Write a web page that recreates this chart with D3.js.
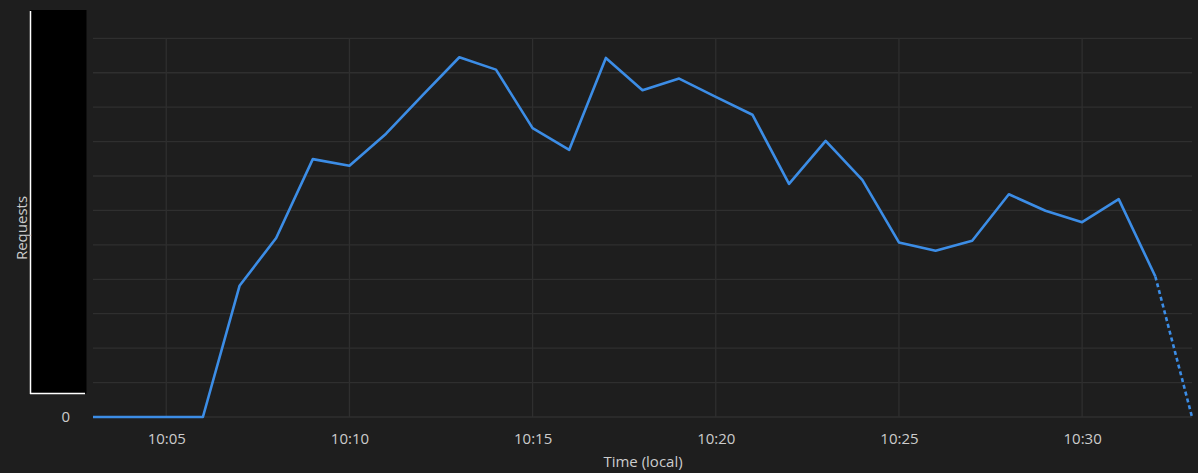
<!DOCTYPE html>
<html><head><meta charset="utf-8">
<script src="https://cdn.jsdelivr.net/npm/d3@7"></script>
<style>
html,body{margin:0;padding:0;background:#1e1e1e;}
svg{display:block;}
text{font-family:"Open Sans","Noto Sans",sans-serif;fill:#cccccc;}
</style></head>
<body>
<svg id="chart" width="1198" height="473"></svg>
<script>
// Minutes (local time, 10:03 .. 10:33)
const times = ["10:03","10:04","10:05","10:06","10:07","10:08","10:09","10:10","10:11","10:12","10:13","10:14","10:15","10:16","10:17","10:18","10:19","10:20","10:21","10:22","10:23","10:24","10:25","10:26","10:27","10:28","10:29","10:30","10:31","10:32","10:33"];
// Requests (in gridline units; axis labels are masked in the original)
const requests = [0,0,0,0,3.81,5.2,7.49,7.3,8.23,9.35,10.45,10.09,8.39,7.76,10.43,9.49,9.83,9.3,8.78,6.77,8.02,6.89,5.07,4.83,5.12,6.47,5.99,5.66,6.33,4.08,0];
// Last point is incomplete (drawn dotted)
const partialFrom = "10:32";
const xTickLabels = ["10:05","10:10","10:15","10:20","10:25","10:30"];
const yTicks = [0,1,2,3,4,5,6,7,8,9,10,11];
const yTickLabels = ["0"];

(function(){
const parse = d3.timeParse("%H:%M");
const data = times.map((t,i)=>({t:parse(t), v:requests[i]}));

const svg = d3.select("#chart");
const W = 1198, H = 473;
const mLeft = 93, mRight = 1192, mTop = 38.3, mBottom = 417;
const fs = 15;

const x = d3.scaleTime().domain([parse(times[0]), parse(times[times.length-1])]).range([mLeft,mRight]);
const y = d3.scaleLinear().domain([0,11]).range([mBottom,mTop]);

svg.append("rect").attr("width",W).attr("height",H).attr("fill","#1e1e1e");

const grid = svg.append("g").attr("stroke","#2f2f2f").attr("stroke-width",1.3);
grid.selectAll("line.h").data(yTicks).join("line").attr("class","h")
  .attr("x1",mLeft).attr("x2",mRight)
  .attr("y1",d=>y(d)).attr("y2",d=>y(d));
grid.selectAll("line.v").data(xTickLabels.map(parse)).join("line").attr("class","v")
  .attr("x1",d=>x(d)).attr("x2",d=>x(d))
  .attr("y1",mTop).attr("y2",mBottom);

// x axis labels
const xAxis = d3.axisBottom(x).tickValues(xTickLabels.map(parse)).tickFormat(d3.timeFormat("%H:%M")).tickSize(0).tickPadding(0);
const gx = svg.append("g").attr("transform",`translate(0,${mBottom})`).call(xAxis);
gx.select(".domain").remove();
gx.selectAll("text").attr("dy",null).attr("y",27).attr("font-size",fs).attr("fill","#cccccc")
  .style("font-family",'"Open Sans","Noto Sans",sans-serif');

// y axis label(s)
const yAxis = d3.axisLeft(y).tickValues([0]).tickFormat((d,i)=>yTickLabels[i]).tickSize(0).tickPadding(0);
const gy = svg.append("g").attr("transform",`translate(70,0)`).call(yAxis);
gy.select(".domain").remove();
gy.selectAll("text").attr("dy","0.32em").attr("font-size",fs).attr("fill","#cccccc")
  .style("font-family",'"Open Sans","Noto Sans",sans-serif');

// masking box over y labels
svg.append("rect").attr("x",30).attr("y",10).attr("width",56.5).attr("height",383.5).attr("fill","#000");
svg.append("line").attr("x1",30.5).attr("x2",30.5).attr("y1",11).attr("y2",394).attr("stroke","#fff").attr("stroke-width",1.5);
svg.append("line").attr("x1",30).attr("x2",85).attr("y1",393.5).attr("y2",393.5).attr("stroke","#fff").attr("stroke-width",1.5);

// titles
svg.append("text").attr("x",643).attr("y",467).attr("text-anchor","middle").attr("font-size",fs).text("Time (local)");
svg.append("text").attr("transform","translate(27,228) rotate(-90)").attr("text-anchor","middle").attr("font-size",fs).text("Requests");

// line
const line = d3.line().x(d=>x(d.t)).y(d=>y(d.v));
const cut = times.indexOf(partialFrom);
svg.append("path").datum(data.slice(0,cut+1)).attr("d",line)
  .attr("fill","none").attr("stroke","#3c8de6").attr("stroke-width",2.6).attr("stroke-linejoin","round");
svg.append("path").datum(data.slice(cut)).attr("d",line)
  .attr("fill","none").attr("stroke","#3c8de6").attr("stroke-width",2.6).attr("stroke-dasharray","4,3");
})();
</script>
</body></html>
